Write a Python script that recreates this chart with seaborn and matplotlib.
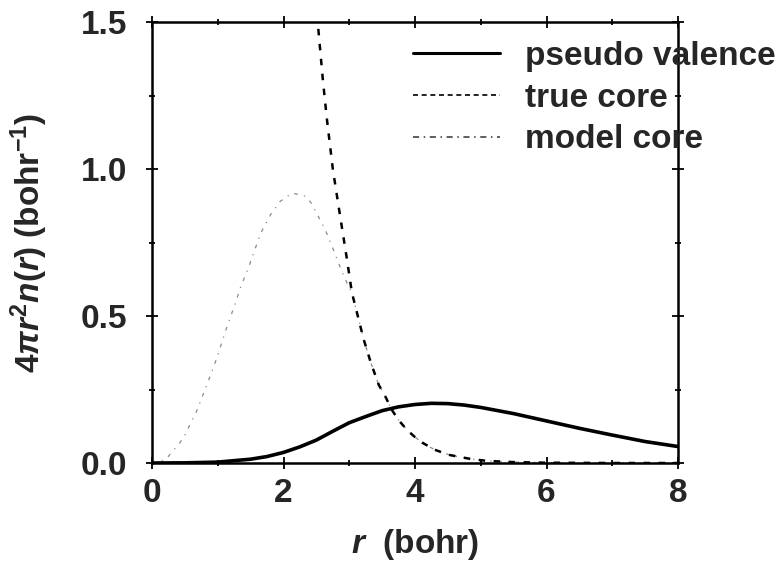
import matplotlib
matplotlib.use("Agg")
import matplotlib.pyplot as plt
from matplotlib.lines import Line2D
from matplotlib.ticker import MultipleLocator
import seaborn as sns
import pandas as pd

# Radial densities 4*pi*r^2*n(r) in bohr^-1, sampled along r (bohr)
r_valence = [0.0, 0.5, 1.0, 1.5, 1.75, 2.0, 2.25, 2.5, 2.75, 3.0, 3.25, 3.5,
             3.75, 4.0, 4.25, 4.5, 4.75, 5.0, 5.5, 6.0, 6.5, 7.0, 7.5, 8.0]
n_valence = [0.0, 0.0005, 0.003, 0.013, 0.022, 0.036, 0.055, 0.078, 0.108,
             0.137, 0.158, 0.178, 0.191, 0.199, 0.203, 0.202, 0.197, 0.189,
             0.168, 0.143, 0.118, 0.095, 0.073, 0.056]

r_true = [2.47, 2.52, 2.60, 2.66, 2.75, 2.84, 2.96, 3.04, 3.13, 3.22, 3.33,
          3.45, 3.54, 3.65, 3.75, 3.88, 4.0, 4.12, 4.3, 4.53, 4.84, 5.1, 5.5,
          6.0, 7.0, 8.0]
n_true = [1.65, 1.50, 1.30, 1.17, 1.00, 0.87, 0.70, 0.58, 0.50, 0.42, 0.34,
          0.265, 0.23, 0.18, 0.146, 0.112, 0.088, 0.068, 0.045, 0.027, 0.014,
          0.007, 0.003, 0.001, 0.0, 0.0]

r_model = [0.0, 0.12, 0.24, 0.41, 0.49, 0.61, 0.68, 0.91, 0.99, 1.12, 1.27,
           1.35, 1.46, 1.65, 1.72, 1.81, 1.95, 2.13, 2.33, 2.42, 2.62, 2.68,
           2.89, 3.0, 3.04, 3.13, 3.22, 3.33, 3.45, 3.54, 3.65, 3.75, 3.88,
           4.0, 4.12, 4.3, 4.53, 4.84, 5.1, 5.5, 6.0, 7.0, 8.0]
n_model = [0.0, 0.004, 0.02, 0.065, 0.09, 0.146, 0.177, 0.31, 0.36, 0.45,
           0.545, 0.60, 0.66, 0.78, 0.81, 0.847, 0.89, 0.918, 0.908, 0.885,
           0.80, 0.77, 0.65, 0.595, 0.58, 0.50, 0.42, 0.34, 0.265, 0.23, 0.18,
           0.146, 0.112, 0.088, 0.068, 0.045, 0.027, 0.014, 0.007, 0.003,
           0.001, 0.0, 0.0]

labels = ["pseudo valence", "true core", "model core"]
x_ticks = [0, 2, 4, 6, 8]
y_ticks = [0.0, 0.5, 1.0, 1.5]

sns.set_style("ticks")
plt.rcParams["font.family"] = ["Liberation Sans", "DejaVu Sans"]
plt.rcParams["font.weight"] = "bold"
plt.rcParams["mathtext.fontset"] = "custom"
plt.rcParams["mathtext.rm"] = "Liberation Sans:bold"
plt.rcParams["mathtext.it"] = "Liberation Sans:italic:bold"
plt.rcParams["mathtext.bf"] = "Liberation Sans:bold"

fig = plt.figure(figsize=(7.82, 5.69), dpi=100)
ax = fig.add_axes([152 / 782, 1 - 463 / 569, 526 / 782, 441 / 569])

df_val = pd.DataFrame({"r": r_valence, "n": n_valence})
df_true = pd.DataFrame({"r": r_true, "n": n_true})
df_model = pd.DataFrame({"r": r_model, "n": n_model})

sns.lineplot(data=df_model, x="r", y="n", ax=ax, sort=False, estimator=None,
             color="#8a8a8a", lw=0.9, dashes=(3, 5, 1, 5))
sns.lineplot(data=df_true, x="r", y="n", ax=ax, sort=False, estimator=None,
             color="black", lw=1.8, dashes=(2.6, 3.4))
sns.lineplot(data=df_val, x="r", y="n", ax=ax, sort=False, estimator=None,
             color="black", lw=2.6)

ax.set_xlim(0, 8)
ax.set_ylim(0, 1.5)
ax.set_xticks(x_ticks)
ax.set_yticks(y_ticks)
ax.set_yticklabels([f"{v:.1f}" for v in y_ticks])
ax.xaxis.set_minor_locator(MultipleLocator(1))
ax.yaxis.set_minor_locator(MultipleLocator(0.25))
ax.tick_params(which="both", direction="inout", top=True, right=True,
               width=1.3, color="black")
ax.tick_params(which="major", length=8, labelsize=24)
ax.tick_params(axis="y", which="major", pad=14)
ax.tick_params(axis="x", which="major", pad=7)
ax.tick_params(which="minor", length=5)
for lab in ax.get_xticklabels() + ax.get_yticklabels():
    lab.set_fontweight("bold")
for side in ax.spines.values():
    side.set_linewidth(1.8)
    side.set_color("black")

ax.set_xlabel(r"$r$  (bohr)", fontsize=24, fontweight="bold")
ax.set_ylabel(r"$4\pi r^2 n(r)$ (bohr$^{-1}$)", fontsize=24,
              fontweight="bold")
ax.xaxis.set_label_coords(0.5, -0.145)
ax.yaxis.set_label_coords(-0.194, 0.50)

handles = [
    Line2D([], [], color="black", lw=2.2),
    Line2D([], [], color="black", lw=1.2, dashes=(3, 2.2)),
    Line2D([], [], color="#333333", lw=1.1, dashes=(4, 3, 1, 3)),
]
fig.legend(handles, labels, loc="upper left",
           bbox_to_anchor=(413 / 782, 1 - 41 / 569),
           frameon=False, handlelength=2.6, handletextpad=0.75,
           labelspacing=0.32, borderpad=0, borderaxespad=0,
           prop={"weight": "bold", "size": 24})

fig.savefig("out.png", dpi=100)
